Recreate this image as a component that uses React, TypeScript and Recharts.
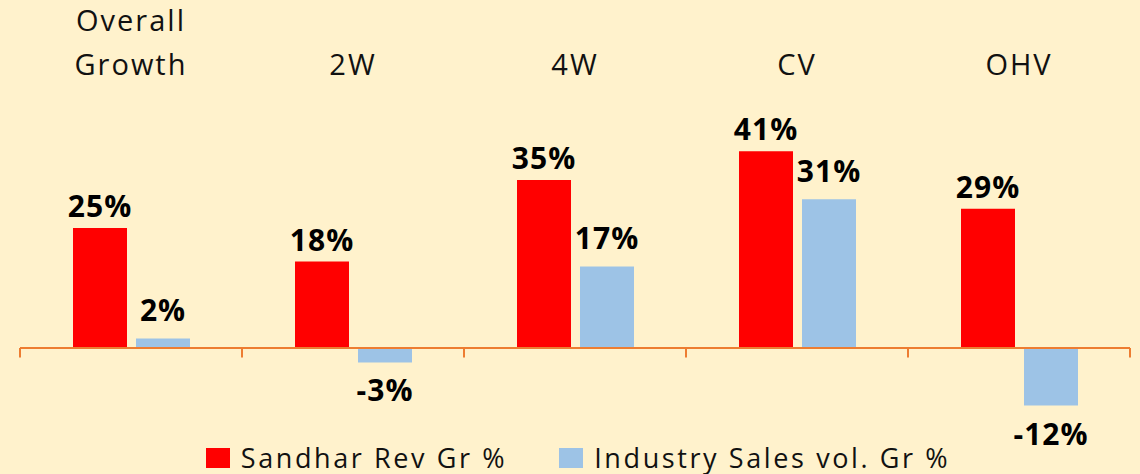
import { BarChart, Bar, XAxis, YAxis, LabelList, Legend, ReferenceLine } from 'recharts';

const categories = ['Overall Growth', '2W', '4W', 'CV', 'OHV'];
const sandharRev = [25, 18, 35, 41, 29];
const industryVol = [2, -3, 17, 31, -12];

const seriesNames = ['Sandhar Rev Gr %', 'Industry Sales vol. Gr %'];
const colors = ['#FF0000', '#9DC3E6'];
const axisColor = '#ED7D31';
const font = '"Open Sans", sans-serif';

const data = categories.map((name, i) => ({
  name,
  sandhar: sandharRev[i],
  industry: industryVol[i],
}));

// tick marks at the edges of every category band
const boundaryTicks = [
  ...categories.map((c) => ({ cat: c, pos: 'start' as const })),
  { cat: categories[categories.length - 1], pos: 'end' as const },
];

function CategoryTick(props: any) {
  const { x, y, payload } = props;
  const lines = String(payload.value).split(' ');
  return (
    <g>
      {lines.map((line, i) => (
        <text
          key={i}
          x={x}
          y={y - 57 - (lines.length - 1 - i) * 44}
          textAnchor="middle"
          fontFamily={font}
          fontSize={29}
          letterSpacing={2}
          fill="#111"
        >
          {line}
        </text>
      ))}
    </g>
  );
}

function ValueLabel(props: any) {
  const { x, y, width, height, value, gap = 11 } = props;
  const v = Number(value);
  const top = Math.min(Number(y), Number(y) + Number(height));
  const bottom = Math.max(Number(y), Number(y) + Number(height));
  const ty = v < 0 ? bottom + gap + 22 : top - gap;
  return (
    <text
      x={Number(x) + Number(width) / 2}
      y={ty}
      textAnchor="middle"
      fontFamily={font}
      fontSize={30}
      fontWeight="bold"
      letterSpacing={1}
      fill="#000"
    >
      {v}%
    </text>
  );
}

function LegendContent() {
  return (
    <div
      style={{
        height: 54,
        display: 'flex',
        justifyContent: 'center',
        alignItems: 'flex-end',
        fontFamily: font,
        fontSize: 27,
        letterSpacing: 2.6,
        color: '#111',
        lineHeight: '32px',
        paddingLeft: 6,
      }}
    >
      {seriesNames.map((name, i) => (
        <div key={name} style={{ display: 'flex', alignItems: 'center', marginLeft: i ? 52 : 0 }}>
          <span style={{ width: 24, height: 20, background: colors[i], marginRight: 11, display: 'inline-block' }} />
          <span>{name}</span>
        </div>
      ))}
    </div>
  );
}

export default function App() {
  return (
    <div style={{ position: 'absolute', left: 0, top: 0, width: 1140, height: 474, background: '#FFF2CC' }}>
      <BarChart
        width={1140}
        height={474}
        data={data}
        margin={{ top: 32, right: 10, bottom: 0, left: 20 }}
        barSize={54}
        barGap={9}
      >
        <XAxis
          xAxisId="cat"
          dataKey="name"
          orientation="top"
          height={100}
          axisLine={false}
          tickLine={false}
          tickSize={0}
          tickMargin={0}
          interval={0}
          tick={<CategoryTick />}
        />
        <YAxis domain={[-15, 45]} hide />
        <Legend verticalAlign="bottom" content={<LegendContent />} />
        <Bar xAxisId="cat" dataKey="sandhar" name={seriesNames[0]} fill={colors[0]} isAnimationActive={false}>
          <LabelList dataKey="sandhar" content={<ValueLabel gap={11} />} />
        </Bar>
        <Bar xAxisId="cat" dataKey="industry" name={seriesNames[1]} fill={colors[1]} isAnimationActive={false}>
          <LabelList dataKey="industry" content={<ValueLabel gap={17} />} />
        </Bar>
        <ReferenceLine xAxisId="cat" y={0} stroke={axisColor} strokeWidth={2} />
        {boundaryTicks.map((b, i) => (
          <ReferenceLine
            key={i}
            xAxisId="cat"
            position={b.pos}
            segment={[{ x: b.cat, y: 0 }, { x: b.cat, y: -2 }]}
            stroke={axisColor}
            strokeWidth={2}
          />
        ))}
      </BarChart>
    </div>
  );
}
